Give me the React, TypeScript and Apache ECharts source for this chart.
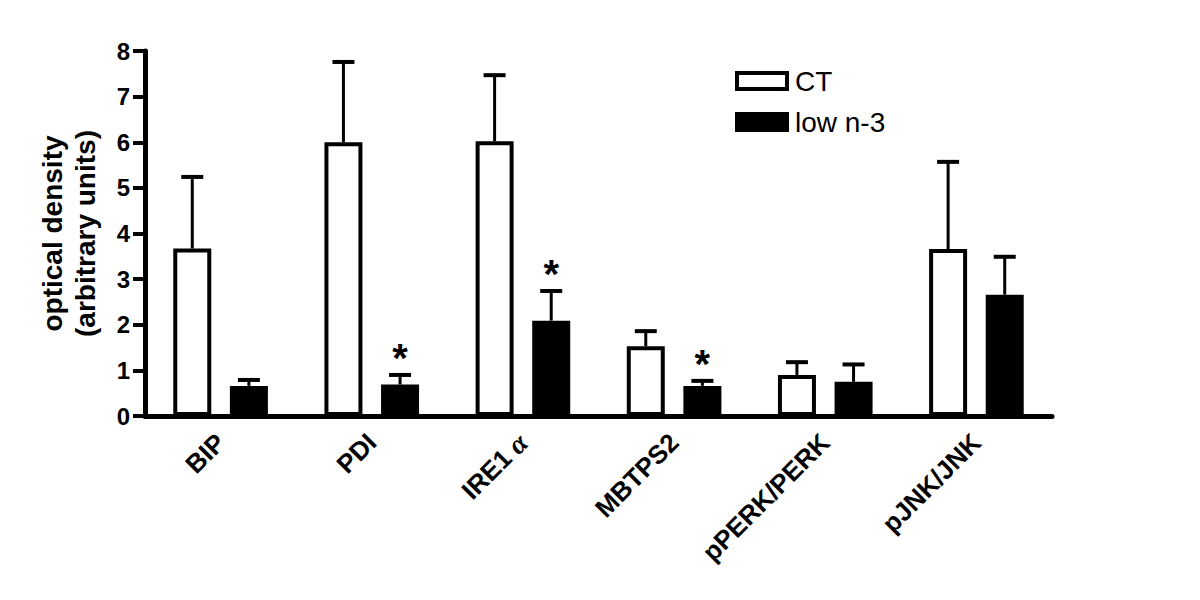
import React, { useEffect, useRef } from 'react';
import * as echarts from 'echarts';

const categories = ['BIP', 'PDI', 'IRE1α', 'MBTPS2', 'pPERK/PERK', 'pJNK/JNK'];
const ctMean = [3.67, 6.0, 6.02, 1.53, 0.9, 3.66];
const ctErr = [1.57, 1.76, 1.45, 0.33, 0.28, 1.91];
const lowMean = [0.66, 0.69, 2.09, 0.66, 0.75, 2.66];
const lowErr = [0.13, 0.21, 0.65, 0.11, 0.38, 0.83];
const lowSig = [0, 1, 1, 1, 0, 0];
const ctSig = [0, 0, 0, 0, 0, 0];

const FONT = '"Liberation Sans", Arial, sans-serif';

export default function App() {
  const ref = useRef<HTMLDivElement>(null);
  useEffect(() => {
    const chart = echarts.init(ref.current!, null, { renderer: 'svg' });
    const BAR_W = 38;
    const GAP = 0.49;
    const offset = (BAR_W * (1 + GAP)) / 2;

    const errRender = (dir: number) => (params: any, api: any) => {
      const x = api.value(0);
      const m = api.value(1);
      const e = api.value(2);
      const sig = api.value(3);
      const base = api.coord([x, m]);
      const top = api.coord([x, m + e]);
      const cx = base[0] + dir * offset;
      const children: any[] = [
        {
          type: 'line',
          shape: { x1: cx, y1: base[1], x2: cx, y2: top[1] },
          style: { stroke: '#000', lineWidth: 3 },
        },
        {
          type: 'line',
          shape: { x1: cx - 11, y1: top[1], x2: cx + 11, y2: top[1] },
          style: { stroke: '#000', lineWidth: 4 },
        },
      ];
      if (sig) {
        children.push({
          type: 'text',
          x: cx,
          y: top[1] - 17,
          style: {
            text: '*',
            fill: '#000',
            font: `bold 40px ${FONT}`,
            align: 'center',
            verticalAlign: 'middle',
          },
        });
      }
      return { type: 'group', children };
    };

    chart.setOption({
      animation: false,
      backgroundColor: '#fff',
      grid: { left: 145, right: 148, top: 51, bottom: 184, containLabel: false },
      legend: {
        orient: 'vertical',
        left: 730,
        top: 62,
        itemWidth: 50,
        itemHeight: 16,
        itemGap: 13,
        selectedMode: false,
        textStyle: {
          fontFamily: FONT,
          fontSize: 28,
          lineHeight: 28,
          color: '#000',
          padding: [0, 0, 0, 3],
        },
        data: [
          { name: 'CT', icon: 'rect', itemStyle: { color: '#fff', borderColor: '#000', borderWidth: 4 } },
          { name: 'low n-3', icon: 'rect', itemStyle: { color: '#000', borderColor: '#000', borderWidth: 4 } },
        ],
      },
      xAxis: {
        type: 'category',
        data: categories,
        axisLine: { lineStyle: { color: '#000', width: 5 } },
        axisTick: { alignWithLabel: true, length: 12, lineStyle: { color: '#000', width: 4 } },
        axisLabel: {
          interval: 0,
          rotate: 45,
          margin: 22,
          color: '#000',
          fontFamily: FONT,
          fontWeight: 'bold',
          fontSize: 26,
          formatter: (v: string) => (v === 'IRE1α' ? '{b|IRE1}{g| α}' : v),
          rich: {
            b: { fontFamily: FONT, fontWeight: 'bold', fontSize: 26, color: '#000' },
            g: { fontFamily: '"Liberation Serif", serif', fontStyle: 'italic', fontSize: 28, color: '#000' },
          },
        },
        splitLine: { show: false },
      },
      yAxis: {
        type: 'value',
        min: 0,
        max: 8,
        interval: 1,
        name: 'optical density\n(arbitrary units)',
        nameLocation: 'middle',
        nameGap: 43,
        nameTextStyle: {
          fontFamily: FONT,
          fontWeight: 'bold',
          fontSize: 28,
          lineHeight: 33,
          color: '#000',
        },
        axisLine: { show: true, lineStyle: { color: '#000', width: 5 } },
        axisTick: { show: true, length: 12, lineStyle: { color: '#000', width: 4 } },
        axisLabel: {
          margin: 15,
          color: '#000',
          fontFamily: FONT,
          fontWeight: 'bold',
          fontSize: 24,
        },
        splitLine: { show: false },
      },
      series: [
        {
          name: 'CT',
          type: 'bar',
          data: ctMean,
          barWidth: BAR_W,
          barGap: `${GAP * 100}%`,
          itemStyle: { color: '#fff', borderColor: '#000', borderWidth: 4 },
        },
        {
          name: 'low n-3',
          type: 'bar',
          data: lowMean,
          barWidth: BAR_W,
          barGap: `${GAP * 100}%`,
          itemStyle: { color: '#000', borderColor: '#000', borderWidth: 4 },
        },
        {
          name: 'CT error',
          type: 'custom',
          renderItem: errRender(-1),
          data: categories.map((_, i) => [i, ctMean[i], ctErr[i], ctSig[i]]),
          z: 5,
        },
        {
          name: 'low n-3 error',
          type: 'custom',
          renderItem: errRender(1),
          data: categories.map((_, i) => [i, lowMean[i], lowErr[i], lowSig[i]]),
          z: 5,
        },
      ],
    });
    return () => chart.dispose();
  }, []);
  return (
    <div
      ref={ref}
      style={{ position: 'fixed', left: 0, top: 0, width: 1200, height: 600, background: '#fff' }}
    />
  );
}
